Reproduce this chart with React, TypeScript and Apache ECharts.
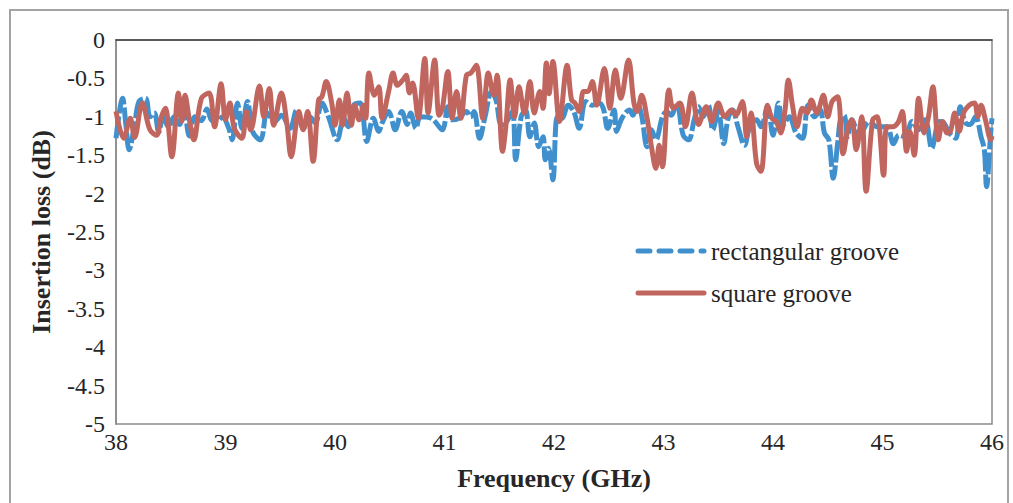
import React, { useEffect, useRef } from "react";
import * as echarts from "echarts";

const xTicks = [38, 39, 40, 41, 42, 43, 44, 45, 46];
const yTicks = [0, -0.5, -1, -1.5, -2, -2.5, -3, -3.5, -4, -4.5, -5];
const seriesNames = ["rectangular groove", "square groove"];

const rectFreq = [
  38.0, 38.06, 38.09, 38.12, 38.17, 38.21, 38.27, 38.31, 38.35, 38.39, 38.43, 38.48, 38.53, 38.58, 38.62, 38.67,
  38.72, 38.78, 38.83, 38.88, 38.93, 38.97, 39.03, 39.06, 39.11, 39.15, 39.2, 39.25, 39.32, 39.38, 39.45, 39.51,
  39.59, 39.65, 39.71, 39.77, 39.82, 39.88, 39.94, 40.02, 40.08, 40.12, 40.17, 40.23, 40.29, 40.35, 40.4, 40.43,
  40.49, 40.55, 40.61, 40.66, 40.69, 40.74, 40.78, 40.88, 40.98, 41.03, 41.07, 41.13, 41.2, 41.24, 41.27, 41.32,
  41.37, 41.43, 41.47, 41.52, 41.56, 41.62, 41.65, 41.7, 41.74, 41.78, 41.82, 41.86, 41.9, 41.92, 41.95, 41.99,
  42.03, 42.07, 42.13, 42.18, 42.23, 42.29, 42.35, 42.41, 42.45, 42.49, 42.55, 42.57, 42.62, 42.69, 42.72, 42.76,
  42.8, 42.85, 42.89, 42.93, 42.99, 43.03, 43.07, 43.12, 43.18, 43.23, 43.28, 43.32, 43.36, 43.41, 43.45, 43.5,
  43.55, 43.59, 43.63, 43.68, 43.74, 43.79, 43.85, 43.89, 43.95, 44.0, 44.05, 44.09, 44.15, 44.21, 44.27, 44.32,
  44.38, 44.43, 44.47, 44.51, 44.55, 44.59, 44.62, 44.65, 44.68, 44.72, 44.79, 44.88, 44.95, 45.04, 45.1, 45.15,
  45.21, 45.27, 45.33, 45.39, 45.45, 45.52, 45.56, 45.61, 45.67, 45.71, 45.76, 45.8, 45.85, 45.9, 45.93, 45.95,
  45.99, 46.0,
];
const rectLoss = [
  -1.28, -0.76, -1.1, -1.43, -1.1, -0.8, -0.76, -1.0, -0.95, -1.2, -1.0, -1.13, -1.0, -1.1, -0.9, -1.25,
  -1.0, -1.05, -0.9, -1.05, -1.05, -1.0, -1.15, -1.3, -0.82, -1.15, -0.8, -1.2, -1.3, -0.95, -1.06, -0.98,
  -1.15, -0.91, -1.15, -1.0, -1.08, -0.82, -1.0, -1.3, -1.02, -1.13, -0.85, -0.82, -1.32, -1.02, -1.19, -1.08,
  -0.93, -1.17, -0.93, -1.1, -0.95, -1.15, -1.0, -1.02, -1.17, -0.87, -1.04, -1.02, -0.93, -1.0, -0.93, -1.28,
  -1.0, -0.67, -0.78, -1.11, -1.08, -0.93, -1.56, -1.0, -0.91, -1.26, -1.08, -1.39, -1.26, -1.56, -1.41, -1.82,
  -1.0, -1.02, -0.85, -0.93, -1.15, -0.8, -0.85, -0.82, -0.89, -1.15, -0.91, -1.19, -1.02, -0.91, -0.98, -0.82,
  -0.98, -1.39, -1.17, -1.3, -1.0, -0.93, -0.98, -0.82, -1.24, -1.3, -1.04, -0.87, -1.0, -0.85, -1.17, -0.93,
  -1.35, -1.02, -0.91, -1.13, -1.37, -1.11, -1.04, -1.13, -0.87, -1.24, -0.82, -1.11, -1.0, -1.21, -1.28, -0.85,
  -1.0, -0.91, -1.21, -1.3, -1.8, -1.35, -1.0, -0.98, -1.26, -1.04, -1.24, -1.06, -1.13, -1.13, -1.35, -1.24,
  -1.26, -1.06, -1.17, -1.04, -1.41, -1.06, -1.08, -1.21, -1.28, -0.87, -1.08, -1.1, -1.0, -1.26, -1.43, -1.91,
  -1.17, -1.02,
];

const squareFreq = [
  38.0, 38.07, 38.13, 38.17, 38.24, 38.31, 38.37, 38.41, 38.45, 38.51, 38.57, 38.6, 38.63, 38.67, 38.71, 38.78,
  38.85, 38.9, 38.96, 39.0, 39.04, 39.08, 39.15, 39.19, 39.23, 39.31, 39.35, 39.4, 39.44, 39.51, 39.56, 39.6,
  39.67, 39.71, 39.75, 39.8, 39.85, 39.88, 39.92, 39.97, 40.0, 40.04, 40.07, 40.11, 40.15, 40.18, 40.22, 40.26,
  40.28, 40.31, 40.36, 40.4, 40.43, 40.49, 40.53, 40.57, 40.62, 40.65, 40.68, 40.71, 40.76, 40.82, 40.85, 40.91,
  40.95, 40.98, 41.03, 41.07, 41.11, 41.15, 41.2, 41.24, 41.29, 41.35, 41.4, 41.45, 41.48, 41.53, 41.56, 41.6,
  41.64, 41.68, 41.73, 41.78, 41.82, 41.87, 41.9, 41.93, 41.955, 41.99, 42.05, 42.12, 42.16, 42.19, 42.23, 42.27,
  42.31, 42.35, 42.39, 42.46, 42.51, 42.56, 42.61, 42.68, 42.73, 42.76, 42.8, 42.85, 42.89, 42.93, 42.96, 42.99,
  43.05, 43.09, 43.15, 43.2, 43.26, 43.32, 43.39, 43.44, 43.5, 43.56, 43.62, 43.66, 43.72, 43.76, 43.8, 43.85,
  43.89, 43.95, 43.99, 44.03, 44.07, 44.11, 44.14, 44.18, 44.22, 44.27, 44.31, 44.35, 44.4, 44.46, 44.5, 44.54,
  44.59, 44.64, 44.69, 44.72, 44.76, 44.81, 44.85, 44.91, 44.95, 45.01, 45.04, 45.09, 45.14, 45.18, 45.22, 45.25,
  45.29, 45.33, 45.38, 45.42, 45.46, 45.51, 45.55, 45.59, 45.62, 45.66, 45.7, 45.74, 45.79, 45.84, 45.87, 45.9,
  45.94, 45.99, 46.0,
];
const squareLoss = [
  -0.93, -1.28, -1.02, -1.27, -0.82, -1.17, -1.24, -1.02, -0.89, -1.52, -0.69, -1.06, -0.72, -1.04, -1.3, -0.76,
  -0.69, -1.13, -0.57, -1.04, -0.82, -1.15, -1.28, -0.93, -1.17, -0.6, -1.0, -0.63, -1.11, -0.69, -1.08, -1.52,
  -0.93, -1.17, -0.93, -1.58, -0.78, -0.74, -0.54, -0.82, -1.11, -0.78, -1.11, -0.69, -1.11, -0.85, -1.04, -0.85,
  -1.02, -0.43, -0.72, -0.61, -1.02, -0.67, -0.43, -0.59, -0.52, -0.46, -0.69, -0.56, -1.02, -0.24, -0.95, -0.26,
  -0.98, -0.89, -0.41, -1.02, -0.67, -1.02, -0.46, -0.43, -0.33, -1.02, -0.43, -0.72, -0.46, -1.45, -1.13, -0.52,
  -1.0, -0.61, -0.95, -0.54, -0.95, -0.67, -0.89, -0.3, -0.7, -0.28, -1.06, -0.33, -0.78, -0.82, -0.93, -0.67,
  -0.67, -0.54, -0.85, -0.37, -0.89, -0.39, -0.76, -0.26, -0.82, -0.93, -0.72, -1.02, -1.39, -1.67, -1.37, -1.65,
  -0.65, -0.89, -0.82, -1.13, -0.69, -1.1, -0.87, -1.06, -0.82, -1.0, -0.91, -0.98, -0.8, -1.26, -0.95, -1.61,
  -1.71, -0.85, -1.02, -1.06, -1.21, -0.91, -0.52, -0.87, -1.13, -0.89, -0.95, -0.78, -0.95, -0.72, -1.0, -0.8,
  -0.74, -1.48, -1.11, -1.04, -1.43, -1.0, -1.97, -1.04, -1.0, -1.76, -1.13, -1.13, -1.08, -0.93, -1.45, -1.19,
  -1.5, -0.76, -1.21, -1.0, -0.61, -1.3, -1.06, -1.21, -1.19, -0.95, -1.19, -0.95, -0.85, -0.82, -1.0, -0.85,
  -1.04, -1.3, -1.25,
];

const BLUE = "#4190ce";
const RED = "#c0665f";
const FONT = "'Liberation Serif', 'Times New Roman', serif";
const TEXT = "#262626";

export default function App() {
  const ref = useRef<HTMLDivElement>(null);
  useEffect(() => {
    if (!ref.current) return;
    const chart = echarts.init(ref.current, null, { renderer: "svg" });
    chart.setOption({
      animation: false,
      backgroundColor: "#ffffff",
      graphic: [
        {
          type: "rect",
          silent: true,
          z: -10,
          shape: { x: 10, y: 10, width: 998, height: 600 },
          style: { fill: "none", stroke: "#a3a3a3", lineWidth: 2 },
        },
        {
          type: "line",
          silent: true,
          shape: { x1: 638, y1: 251, x2: 704, y2: 251 },
          style: { stroke: BLUE, lineWidth: 5, lineDash: [12, 9], lineCap: "round" },
        },
        {
          type: "text",
          silent: true,
          x: 711,
          y: 251,
          style: { text: seriesNames[0], font: `25px ${FONT}`, fill: TEXT, verticalAlign: "middle" },
        },
        {
          type: "line",
          silent: true,
          shape: { x1: 638, y1: 293, x2: 704, y2: 293 },
          style: { stroke: RED, lineWidth: 5, lineCap: "round" },
        },
        {
          type: "text",
          silent: true,
          x: 711,
          y: 293,
          style: { text: seriesNames[1], font: `25px ${FONT}`, fill: TEXT, verticalAlign: "middle" },
        },
      ],
      grid: {
        left: 116,
        top: 40,
        right: 21,
        bottom: 79,
        show: true,
        borderColor: "#8a8a8a",
        borderWidth: 1.5,
      },
      xAxis: {
        type: "value",
        min: 38,
        max: 46,
        interval: 1,
        name: "Frequency (GHz)",
        nameLocation: "middle",
        nameGap: 41,
        nameTextStyle: { fontFamily: FONT, fontSize: 26, fontWeight: "bold", color: TEXT },
        axisLine: { show: true, lineStyle: { color: "#404040", width: 1.5 } },
        axisTick: { show: false },
        splitLine: { show: false },
        axisLabel: {
          fontFamily: FONT,
          fontSize: 24,
          color: TEXT,
          margin: 6,
          formatter: (v: number) => (xTicks.includes(v) ? String(v) : ""),
        },
      },
      yAxis: {
        type: "value",
        min: -5,
        max: 0,
        interval: 0.5,
        name: "Insertion loss (dB)",
        nameLocation: "middle",
        nameGap: 62,
        nameRotate: 90,
        nameTextStyle: { fontFamily: FONT, fontSize: 26, fontWeight: "bold", color: TEXT },
        axisLine: { show: true, lineStyle: { color: "#8a8a8a", width: 1.5 } },
        axisTick: { show: false },
        splitLine: { show: false },
        axisLabel: {
          fontFamily: FONT,
          fontSize: 24,
          color: TEXT,
          margin: 11,
          formatter: (v: number) => (yTicks.some((t) => Math.abs(t - v) < 1e-9) ? String(v) : ""),
        },
      },
      series: [
        {
          name: seriesNames[0],
          type: "line",
          showSymbol: false,
          symbol: "none",
          smooth: 0.35,
          color: BLUE,
          lineStyle: { color: BLUE, width: 5, type: [22, 3] },
          data: rectFreq.map((f, i) => [f, rectLoss[i]]),
        },
        {
          name: seriesNames[1],
          type: "line",
          showSymbol: false,
          symbol: "none",
          smooth: 0.35,
          color: RED,
          lineStyle: { color: RED, width: 5 },
          data: squareFreq.map((f, i) => [f, squareLoss[i]]),
        },
      ],
    });
    return () => chart.dispose();
  }, []);
  return (
    <div
      ref={ref}
      style={{ position: "fixed", left: 0, top: 0, width: 1013, height: 503, background: "#fff" }}
    />
  );
}
